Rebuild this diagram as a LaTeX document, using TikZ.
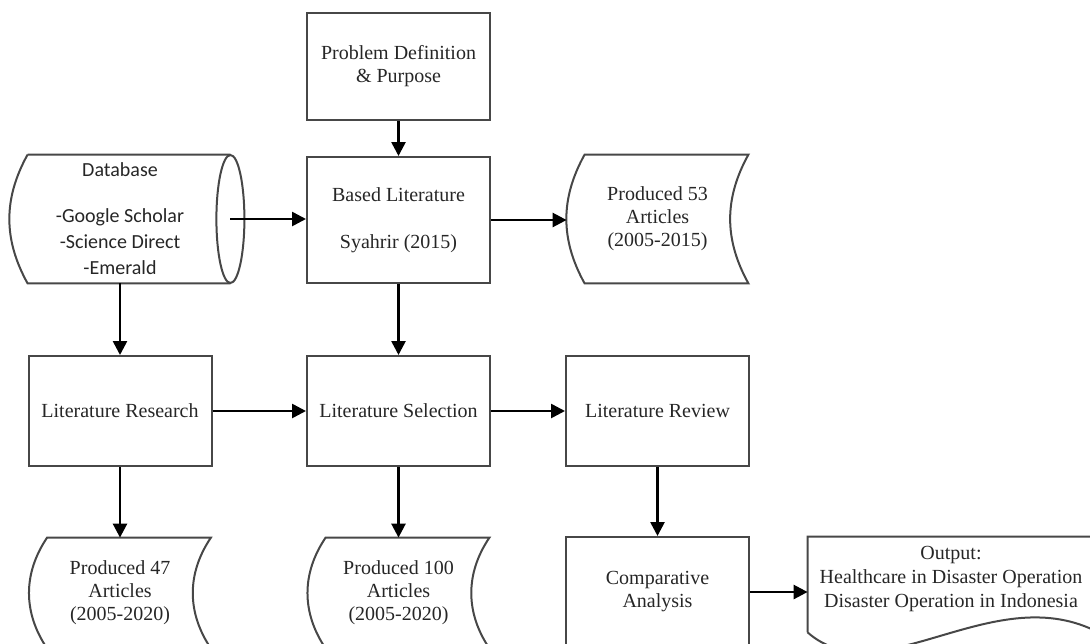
\documentclass[tikz,border=0pt]{standalone}
\usepackage{fontspec}
\setmainfont{Liberation Serif}
\newfontfamily\dbfont{Carlito}
\usepackage{tikz}
\usetikzlibrary{arrows.meta,positioning,calc}

\tikzset{
    box/.style={draw=black!72, line width=1pt, minimum width=91.5pt, minimum height=55pt,
        inner sep=0pt, align=center, text=black!85, font=\fontsize{10}{11.5}\selectfont},
    shapenode/.style={minimum width=90.5pt, minimum height=55pt, inner sep=0pt,
        align=center, text=black!85, font=\fontsize{10}{11.5}\selectfont},
    outline/.style={draw=black!72, line width=1pt},
    arr/.style={-{Triangle[length=7pt,width=7pt]}, line width=1.3pt},
}

\begin{document}
\begin{tikzpicture}[x=0.5pt,y=-0.5pt]
                    \clip (0,0) rectangle (1090,643);
                    \node[box, minimum height=53.5pt] (prob) at (398.5,66.5) {Problem Definition\\\& Purpose};
                    \node[box, minimum height=63pt] (based) at (398.5,220) {Based Literature\\[12pt]Syahrir (2015)};
                    \node[shapenode, minimum width=110pt, minimum height=64pt, font=\dbfont\fontsize{10}{13}\selectfont] (db) at (120,219)
                        {Database\\[10pt]-Google Scholar\\-Science Direct\\-Emerald};
                    \node[shapenode, minimum height=64pt] (p53) at (657.5,219) {Produced 53\\Articles\\(2005-2015)};
                    \node[box] (litres) at (120,411) {Literature Research};
                    \node[box] (litsel) at (398.5,411) {Literature Selection};
                    \node[box] (litrev) at (657.5,411) {Literature Review};
                    \node[shapenode] (p47) at (120,593) {Produced 47\\Articles\\(2005-2020)};
                    \node[shapenode] (p100) at (398.5,593) {Produced 100\\Articles\\(2005-2020)};
                    \node[box] (comp) at (657.5,592) {Comparative\\Analysis};
                    \node[shapenode, minimum width=143pt, minimum height=42pt, font=\fontsize{10}{12}\selectfont] (out) at (951,579)
                        {Output:\\Healthcare in Disaster Operation\\Disaster Operation in Indonesia};

                    \draw[outline] ([xshift=9pt]db.north west) -- (db.north east)
                        (db.south east) -- ([xshift=9pt]db.south west) to[bend left=29] ([xshift=9pt]db.north west);
                    \draw[outline] (db.east) ellipse [x radius=7pt, y radius=32pt];
                    \foreach \n/\b in {p53/29,p47/34,p100/34}{
                        \draw[outline] ([xshift=9pt]\n.north west) -- (\n.north east) to[bend right=\b] (\n.south east)
                            -- ([xshift=9pt]\n.south west) to[bend left=\b] cycle;
                    }
                    \draw[outline] ([yshift=-5.5pt]out.south west) -- (out.north west) -- (out.north east) -- ([yshift=-4.5pt]out.south east)
                        .. controls +(-104,-50) and +(72,63) .. ([yshift=-5.5pt]out.south west);

                    \draw[arr] (prob) -- (based);
                    \draw[arr] (db.east) -- (db.east -| based.west);
                    \draw[arr] (based.east) -- (based.east -| p53.west);
                    \draw[arr] (db) -- (litres);
                    \draw[arr] (based) -- (litsel);
                    \draw[arr] (litres) -- (litsel);
                    \draw[arr] (litsel) -- (litrev);
                    \draw[arr] (litres) -- (p47);
                    \draw[arr] (litsel) -- (p100);
                    \draw[arr] (litrev) -- (comp);
                    \draw[arr] (comp.east) -- (comp.east -| out.west);
                \end{tikzpicture}
\end{document}
